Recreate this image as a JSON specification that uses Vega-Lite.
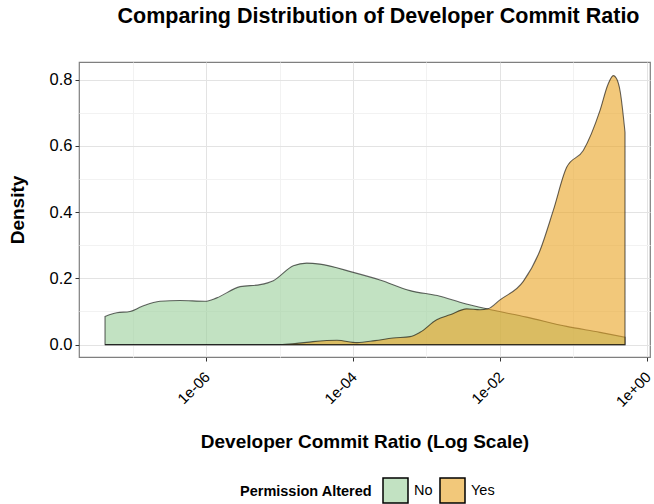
{
  "$schema": "https://vega.github.io/schema/vega-lite/v6.json",
  "width": 571,
  "height": 295,
  "autosize": {"type": "none"},
  "padding": {"left": 79, "top": 62, "right": 4, "bottom": 147},
  "background": "white",
  "title": {
    "text": "Comparing Distribution of Developer Commit Ratio",
    "fontSize": 21.5,
    "font": "Liberation Sans",
    "fontWeight": "bold",
    "color": "#000000",
    "anchor": "middle",
    "frame": "group",
    "dx": 14,
    "offset": 18,
    "baseline": "alphabetic"
  },
  "data": {
    "values": [
      {"permission": "No", "log10_ratio": -7.374, "density": 0.085},
      {"permission": "No", "log10_ratio": -7.215, "density": 0.096},
      {"permission": "No", "log10_ratio": -7.034, "density": 0.100},
      {"permission": "No", "log10_ratio": -6.875, "density": 0.115},
      {"permission": "No", "log10_ratio": -6.626, "density": 0.131},
      {"permission": "No", "log10_ratio": -6.354, "density": 0.133},
      {"permission": "No", "log10_ratio": -6.014, "density": 0.131},
      {"permission": "No", "log10_ratio": -5.854, "density": 0.141},
      {"permission": "No", "log10_ratio": -5.537, "density": 0.175},
      {"permission": "No", "log10_ratio": -5.265, "density": 0.181},
      {"permission": "No", "log10_ratio": -5.084, "density": 0.193},
      {"permission": "No", "log10_ratio": -4.812, "density": 0.238},
      {"permission": "No", "log10_ratio": -4.630, "density": 0.246},
      {"permission": "No", "log10_ratio": -4.449, "density": 0.243},
      {"permission": "No", "log10_ratio": -3.996, "density": 0.218},
      {"permission": "No", "log10_ratio": -3.633, "density": 0.195},
      {"permission": "No", "log10_ratio": -3.224, "density": 0.163},
      {"permission": "No", "log10_ratio": -2.816, "density": 0.146},
      {"permission": "No", "log10_ratio": -2.544, "density": 0.128},
      {"permission": "No", "log10_ratio": -2.181, "density": 0.108},
      {"permission": "No", "log10_ratio": -1.637, "density": 0.083},
      {"permission": "No", "log10_ratio": -1.093, "density": 0.055},
      {"permission": "No", "log10_ratio": -0.639, "density": 0.037},
      {"permission": "No", "log10_ratio": -0.299, "density": 0.022},
      {"permission": "Yes", "log10_ratio": -7.374, "density": 0.0},
      {"permission": "Yes", "log10_ratio": -4.993, "density": 0.0},
      {"permission": "Yes", "log10_ratio": -4.789, "density": 0.003},
      {"permission": "Yes", "log10_ratio": -4.544, "density": 0.009},
      {"permission": "Yes", "log10_ratio": -4.218, "density": 0.013},
      {"permission": "Yes", "log10_ratio": -3.946, "density": 0.006},
      {"permission": "Yes", "log10_ratio": -3.701, "density": 0.012},
      {"permission": "Yes", "log10_ratio": -3.456, "density": 0.020},
      {"permission": "Yes", "log10_ratio": -3.224, "density": 0.024},
      {"permission": "Yes", "log10_ratio": -3.088, "density": 0.037},
      {"permission": "Yes", "log10_ratio": -2.861, "density": 0.075},
      {"permission": "Yes", "log10_ratio": -2.680, "density": 0.090},
      {"permission": "Yes", "log10_ratio": -2.453, "density": 0.108},
      {"permission": "Yes", "log10_ratio": -2.272, "density": 0.105},
      {"permission": "Yes", "log10_ratio": -2.163, "density": 0.108},
      {"permission": "Yes", "log10_ratio": -2.000, "density": 0.135},
      {"permission": "Yes", "log10_ratio": -1.683, "density": 0.191},
      {"permission": "Yes", "log10_ratio": -1.456, "density": 0.284},
      {"permission": "Yes", "log10_ratio": -1.275, "density": 0.405},
      {"permission": "Yes", "log10_ratio": -1.093, "density": 0.535},
      {"permission": "Yes", "log10_ratio": -0.867, "density": 0.586},
      {"permission": "Yes", "log10_ratio": -0.639, "density": 0.707},
      {"permission": "Yes", "log10_ratio": -0.531, "density": 0.785},
      {"permission": "Yes", "log10_ratio": -0.459, "density": 0.812},
      {"permission": "Yes", "log10_ratio": -0.408, "density": 0.800},
      {"permission": "Yes", "log10_ratio": -0.367, "density": 0.767},
      {"permission": "Yes", "log10_ratio": -0.299, "density": 0.641}
    ]
  },
  "mark": {
    "type": "area",
    "interpolate": "monotone",
    "fillOpacity": 0.6,
    "strokeOpacity": 0.6,
    "stroke": "black",
    "strokeWidth": 1.1
  },
  "encoding": {
    "x": {
      "field": "log10_ratio",
      "type": "quantitative",
      "scale": {"domain": [-7.728, 0.041], "nice": false, "zero": false},
      "axis": {
        "title": "Developer Commit Ratio (Log Scale)",
        "values": [-7, -6, -5, -4, -3, -2, -1, 0],
        "labelExpr": "datum.value % 2 == 0 ? (datum.value == 0 ? '1e+00' : '1e-0' + (-datum.value)) : ''",
        "labelAngle": -45,
        "labelAlign": "right",
        "labelBaseline": "top",
        "labelFontSize": 15,
        "labelPadding": 8,
        "labelOffset": -4,
        "titlePadding": 23,
        "gridColor": {"condition": {"test": "datum.value % 2 == 0", "value": "#e3e3e3"}, "value": "#f2f2f2"},
        "tickColor": {"condition": {"test": "datum.value % 2 == 0", "value": "#333333"}, "value": "transparent"}
      }
    },
    "y": {
      "field": "density",
      "type": "quantitative",
      "stack": null,
      "scale": {"domain": [-0.0374, 0.853], "nice": false, "zero": false},
      "axis": {
        "title": "Density",
        "values": [0, 0.1, 0.2, 0.3, 0.4, 0.5, 0.6, 0.7, 0.8],
        "labelExpr": "round(datum.value * 10) % 2 == 0 ? format(datum.value, '.1f') : ''",
        "labelPadding": 3,
        "titlePadding": 22,
        "gridColor": {"condition": {"test": "round(datum.value * 10) % 2 == 0", "value": "#e3e3e3"}, "value": "#f2f2f2"},
        "tickColor": {"condition": {"test": "round(datum.value * 10) % 2 == 0", "value": "#333333"}, "value": "transparent"}
      }
    },
    "y2": {"datum": 0},
    "fill": {
      "field": "permission",
      "type": "nominal",
      "scale": {"domain": ["No", "Yes"], "range": ["#99cf99", "#e9a321"]},
      "legend": {
        "title": "Permission Altered",
        "orient": "none",
        "legendX": 161,
        "legendY": 415,
        "direction": "horizontal",
        "titleOrient": "left",
        "titleFontSize": 14.5,
        "titleFontWeight": "bold",
        "titleColor": "#000000",
        "titlePadding": 9,
        "labelFontSize": 14.5,
        "labelColor": "#000000",
        "symbolType": "square",
        "symbolSize": 625,
        "symbolStrokeColor": "black",
        "symbolStrokeWidth": 1.5,
        "labelOffset": 5,
        "columnPadding": 4,
        "padding": 0,
        "encode": {
          "symbols": {
            "update": {
              "opacity": {"value": 1},
              "fillOpacity": {"value": 0.6},
              "stroke": {"value": "black"},
              "strokeOpacity": {"value": 1},
              "strokeWidth": {"value": 1.5}
            }
          }
        }
      }
    }
  },
  "config": {
    "font": "Liberation Sans",
    "view": {"stroke": "#7f7f7f", "strokeWidth": 1.2},
    "axis": {
      "domain": false,
      "labelFont": "Liberation Sans",
      "labelFontSize": 16.5,
      "labelColor": "#000000",
      "titleFont": "Liberation Sans",
      "titleFontSize": 19,
      "titleFontWeight": "bold",
      "titleColor": "#000000",
      "tickSize": 4,
      "tickWidth": 1,
      "gridWidth": 1
    },
    "legend": {"labelFont": "Liberation Sans", "titleFont": "Liberation Sans"}
  }
}
